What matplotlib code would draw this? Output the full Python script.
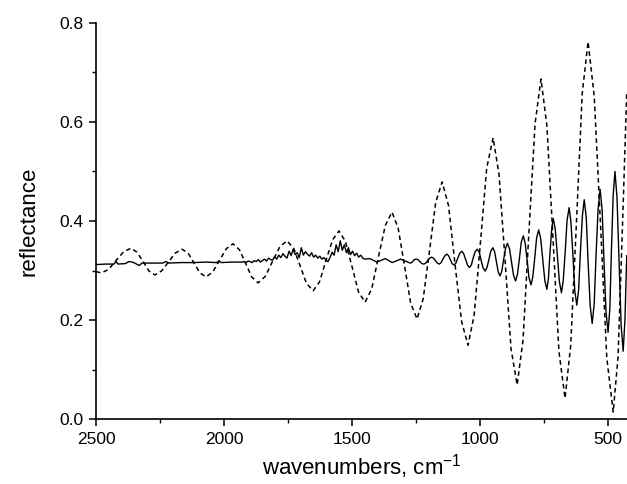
import matplotlib
matplotlib.use("Agg")
import matplotlib.pyplot as plt
from matplotlib.ticker import MultipleLocator, FormatStrFormatter

plt.rcParams['font.family'] = ['Liberation Sans', 'DejaVu Sans']
plt.rcParams['mathtext.fontset'] = 'custom'
plt.rcParams['mathtext.rm'] = 'Liberation Sans'

# dashed spectrum (wavenumber, reflectance)
dashed_wn = [2500, 2480, 2451, 2422, 2392, 2363, 2340, 2316, 2293, 2270,
             2244, 2217, 2191, 2164, 2140, 2117, 2094, 2070, 2044, 2018,
             1991, 1965, 1940, 1916, 1892, 1867, 1839, 1811, 1782, 1754,
             1728, 1703, 1678, 1652, 1627, 1602, 1576, 1551, 1526, 1500,
             1475, 1449, 1423, 1397, 1370, 1344, 1320, 1295, 1271, 1246,
             1222, 1197, 1173, 1148, 1123, 1098, 1072, 1047, 1023, 998,
             974, 949, 926, 902, 879, 855, 832, 809, 785, 762,
             739, 715, 692, 668, 646, 623, 601, 578, 554, 529,
             505, 480, 461, 443, 427]
dashed_r = [0.298, 0.295, 0.302, 0.320, 0.338, 0.345, 0.337, 0.318, 0.299, 0.291,
            0.299, 0.317, 0.335, 0.343, 0.335, 0.315, 0.295, 0.287, 0.297, 0.320,
            0.344, 0.354, 0.342, 0.315, 0.287, 0.275, 0.288, 0.318, 0.348, 0.360,
            0.345, 0.310, 0.274, 0.259, 0.277, 0.320, 0.362, 0.380, 0.359, 0.308,
            0.257, 0.236, 0.263, 0.327, 0.391, 0.418, 0.386, 0.310, 0.234, 0.202,
            0.243, 0.341, 0.438, 0.479, 0.431, 0.314, 0.197, 0.149, 0.210, 0.359,
            0.507, 0.568, 0.495, 0.319, 0.142, 0.069, 0.160, 0.378, 0.597, 0.687,
            0.593, 0.365, 0.137, 0.042, 0.148, 0.402, 0.657, 0.762, 0.652, 0.388,
            0.124, 0.014, 0.125, 0.400, 0.660]

# solid spectrum: flat part, noisy part, then interference fringes
solid_wn = [2500, 2460, 2430, 2422, 2414, 2385, 2372, 2358, 2345, 2332,
            2320, 2280, 2240, 2227, 2215, 2170, 2120, 2070, 2030, 2020,
            2010, 1970,
            1930, 1922, 1914, 1906, 1898, 1890, 1882, 1874, 1866, 1858,
            1850, 1842, 1834, 1826, 1818, 1810, 1802, 1794, 1786, 1778,
            1770, 1762, 1754, 1746, 1738, 1730, 1722, 1714, 1706, 1698,
            1690, 1682, 1674, 1666, 1658, 1650, 1642, 1634, 1626, 1618,
            1610, 1602, 1594, 1586, 1578, 1570, 1562, 1554, 1546, 1538,
            1530, 1522, 1514, 1506, 1498, 1490, 1482, 1474, 1466, 1458,
            1450, 1430, 1403, 1370, 1343, 1310,
            1273, 1267, 1262, 1256, 1250, 1242, 1235, 1227, 1219, 1212,
            1204, 1197, 1189, 1182, 1174, 1167, 1159, 1152, 1145, 1137,
            1130, 1123, 1116, 1109, 1102, 1094, 1087, 1079, 1071, 1064,
            1057, 1049, 1042, 1034, 1027, 1019, 1011, 1003, 996, 988,
            980, 973, 965, 958, 950, 943, 936, 929, 922, 915,
            908, 900, 893, 885, 877, 869, 861, 854, 846, 839,
            831, 824, 816, 809, 801, 794, 786, 779, 771, 763,
            755, 747, 739, 733, 727, 720, 714, 706, 698, 690,
            682, 675, 667, 660, 652, 645, 637, 630, 622, 615,
            608, 600, 593, 585, 578, 570, 562, 554, 547, 539,
            531, 523, 516, 508, 500, 493, 487, 480, 473, 465,
            457, 449, 441, 434, 427]
solid_r = [0.312, 0.313, 0.313, 0.318, 0.313, 0.314, 0.318, 0.317, 0.314, 0.310,
           0.315, 0.315, 0.315, 0.318, 0.315, 0.316, 0.316, 0.317, 0.316, 0.319,
           0.316, 0.317,
           0.317, 0.318, 0.316, 0.319, 0.318, 0.316, 0.320, 0.318, 0.322, 0.317,
           0.320, 0.323, 0.319, 0.325, 0.322, 0.321, 0.328, 0.323, 0.331, 0.326,
           0.334, 0.329, 0.325, 0.339, 0.330, 0.343, 0.332, 0.336, 0.326, 0.346,
           0.331, 0.338, 0.333, 0.329, 0.336, 0.327, 0.331, 0.325, 0.329, 0.323,
           0.326, 0.321, 0.318, 0.326, 0.337, 0.331, 0.352, 0.338, 0.360, 0.341,
           0.352, 0.336, 0.346, 0.332, 0.339, 0.330, 0.335, 0.327, 0.331, 0.325,
           0.323, 0.324, 0.317, 0.324, 0.316, 0.323,
           0.315, 0.316, 0.319, 0.322, 0.323, 0.322, 0.318, 0.314, 0.313, 0.315,
           0.320, 0.325, 0.327, 0.325, 0.320, 0.315, 0.313, 0.316, 0.323, 0.330,
           0.333, 0.330, 0.322, 0.314, 0.311, 0.315, 0.325, 0.335, 0.339, 0.334,
           0.323, 0.311, 0.306, 0.311, 0.325, 0.338, 0.343, 0.337, 0.321, 0.305,
           0.299, 0.306, 0.323, 0.339, 0.346, 0.338, 0.318, 0.297, 0.289, 0.299,
           0.322, 0.345, 0.355, 0.344, 0.317, 0.290, 0.279, 0.292, 0.325, 0.357,
           0.370, 0.356, 0.321, 0.286, 0.271, 0.287, 0.327, 0.366, 0.382, 0.364,
           0.322, 0.280, 0.262, 0.283, 0.334, 0.384, 0.405, 0.383, 0.330, 0.277,
           0.255, 0.280, 0.341, 0.402, 0.427, 0.398, 0.329, 0.259, 0.230, 0.261,
           0.337, 0.412, 0.443, 0.406, 0.318, 0.230, 0.193, 0.233, 0.329, 0.424,
           0.464, 0.422, 0.320, 0.217, 0.175, 0.223, 0.338, 0.452, 0.500, 0.447,
           0.319, 0.190, 0.137, 0.200, 0.330]

fig = plt.figure(figsize=(6.27, 4.84), dpi=100)
ax = fig.add_axes([96/627, 65/484, 531/627, 396/484])

ax.plot(dashed_wn, dashed_r, color='black', lw=1.1, ls=(0, (3, 2.2)))
ax.plot(solid_wn, solid_r, color='black', lw=1.0)

ax.set_xlim(2500, 426)
ax.set_ylim(0.0, 0.8)
ax.xaxis.set_major_locator(MultipleLocator(500))
ax.xaxis.set_minor_locator(MultipleLocator(250))
ax.yaxis.set_major_locator(MultipleLocator(0.2))
ax.yaxis.set_minor_locator(MultipleLocator(0.1))
ax.yaxis.set_major_formatter(FormatStrFormatter('%.1f'))

for side in ['top', 'right']:
    ax.spines[side].set_visible(False)
ax.spines['left'].set_linewidth(1.2)
ax.spines['bottom'].set_linewidth(1.2)
ax.tick_params(which='major', direction='out', length=5, width=1.1, labelsize=12.5, pad=4)
ax.tick_params(which='minor', direction='out', length=3, width=1.0)

ax.set_xlabel('wavenumbers, cm$^{-1}$', fontsize=16, labelpad=4)
ax.set_ylabel('reflectance', fontsize=16, labelpad=14)

plt.savefig("out.png", dpi=100)
plt.close()
